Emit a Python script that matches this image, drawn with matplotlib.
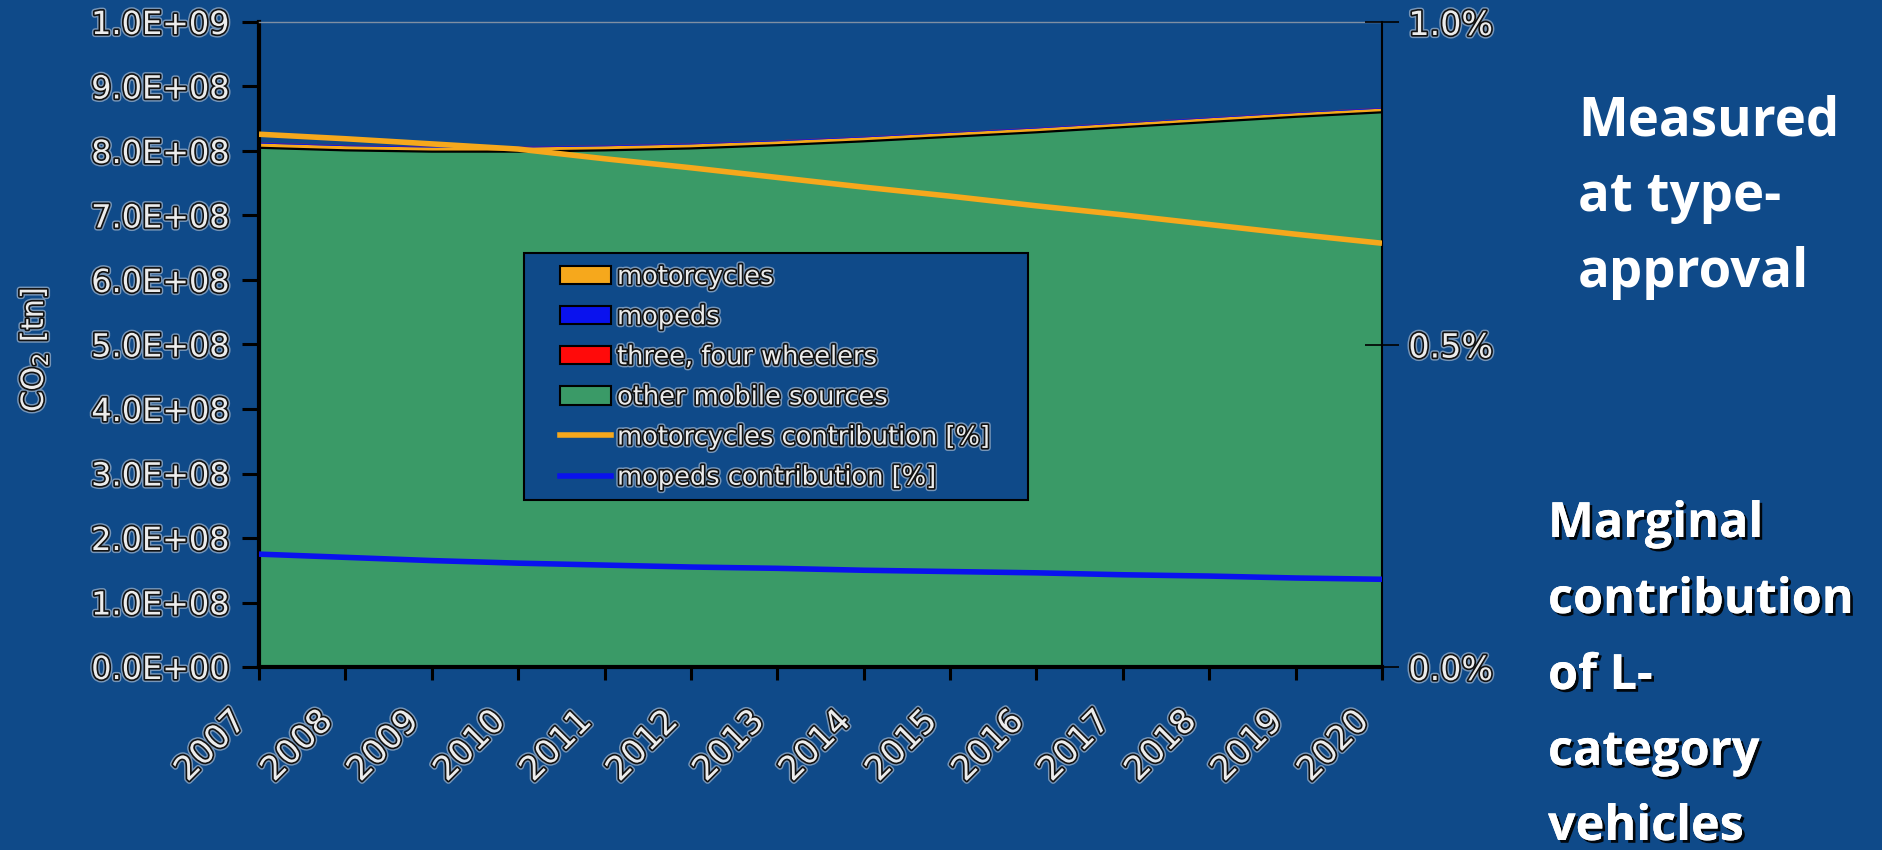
import matplotlib
matplotlib.use('Agg')
import matplotlib.pyplot as plt
import matplotlib.patheffects as pe
from matplotlib.patches import Patch, Rectangle
from matplotlib.lines import Line2D
from matplotlib.ticker import FuncFormatter, FixedLocator
from matplotlib.transforms import ScaledTranslation

# ---------------- data ----------------
years = [2007, 2008, 2009, 2010, 2011, 2012, 2013, 2014, 2015, 2016, 2017, 2018, 2019, 2020]
year_labels = [str(y) for y in years]

other_mobile = [8.05e8, 8.01e8, 7.99e8, 7.99e8, 8.01e8, 8.04e8, 8.09e8,
                8.15e8, 8.22e8, 8.29e8, 8.37e8, 8.45e8, 8.53e8, 8.60e8]
motorcycles = [6.6e6, 6.5e6, 6.4e6, 6.3e6, 6.3e6, 6.2e6, 6.1e6,
               6.0e6, 6.0e6, 5.9e6, 5.8e6, 5.8e6, 5.7e6, 5.7e6]
mopeds = [1.4e6, 1.37e6, 1.33e6, 1.29e6, 1.27e6, 1.25e6, 1.24e6,
          1.23e6, 1.22e6, 1.21e6, 1.20e6, 1.19e6, 1.18e6, 1.17e6]
three_four_wheelers = [0.3e6, 0.3e6, 0.3e6, 0.3e6, 0.3e6, 0.3e6, 0.3e6,
                       0.3e6, 0.3e6, 0.3e6, 0.3e6, 0.3e6, 0.3e6, 0.3e6]

motorcycles_pct = [0.826, 0.819, 0.811, 0.803, 0.788, 0.774, 0.759,
                   0.744, 0.730, 0.715, 0.701, 0.686, 0.671, 0.657]
mopeds_pct = [0.175, 0.170, 0.165, 0.161, 0.158, 0.155, 0.153,
              0.150, 0.148, 0.146, 0.143, 0.141, 0.138, 0.136]

co2_ticks = [0, 1e8, 2e8, 3e8, 4e8, 5e8, 6e8, 7e8, 8e8, 9e8, 1e9]
pct_ticks = [0.0, 0.5, 1.0]

legend_labels = ['motorcycles', 'mopeds', 'three, four wheelers', 'other mobile sources',
                 'motorcycles contribution [%]', 'mopeds contribution [%]']

# ---------------- style ----------------
BG = '#0f4a89'
GREEN = '#3a9a67'
ORANGE = '#f6a81c'
BLUE = '#0a12ee'
RED = '#ff0a0a'
TXT = '#ececec'
outline = [pe.Stroke(linewidth=4.5, foreground='#cfd6e0', alpha=0.55),
           pe.Stroke(linewidth=2.4, foreground='#111111'),
           pe.Normal()]

W, H = 1883, 850
fig = plt.figure(figsize=(W / 100, H / 100), dpi=100, facecolor=BG)

x0, x1, y0, y1 = 259, 1382, 667, 22
ax = fig.add_axes([x0 / W, 1 - y0 / H, (x1 - x0) / W, (y0 - y1) / H])
ax.set_facecolor(BG)

ax.stackplot(years, other_mobile, motorcycles, mopeds, three_four_wheelers,
             colors=[GREEN, ORANGE, BLUE, RED], edgecolor='none', zorder=1)
ax.plot(years, other_mobile, color='black', lw=1.6, zorder=2)

ax.set_xlim(years[0], years[-1])
ax.set_ylim(0, 1e9)
ax.yaxis.set_major_locator(FixedLocator(co2_ticks))
ax.yaxis.set_major_formatter(FuncFormatter(lambda v, p: f"{v:.1E}"))
ax.set_xticks(years)
ax.set_xticklabels(year_labels, rotation=45, ha='right', va='center', rotation_mode='anchor')

ax.tick_params(axis='y', direction='out', length=12, width=2.2, color='black',
               pad=9, labelsize=23, labelcolor=TXT)
ax.tick_params(axis='x', direction='out', length=9, width=2.2, color='black',
               pad=26, labelsize=24, labelcolor=TXT)

for s in ['left', 'bottom']:
    ax.spines[s].set_color('black')
    ax.spines[s].set_linewidth(3)
ax.spines['top'].set_color('#7f8fa3')
ax.spines['top'].set_linewidth(1)
ax.spines['right'].set_visible(False)

# ---------------- secondary axis ----------------
ax2 = ax.twinx()
ax2.plot(years, motorcycles_pct, color=ORANGE, lw=4, solid_capstyle='butt', zorder=3)
ax2.plot(years, mopeds_pct, color=BLUE, lw=4, solid_capstyle='butt', zorder=3)
ax2.set_ylim(0, 1.0)
ax2.yaxis.set_major_locator(FixedLocator(pct_ticks))
ax2.yaxis.set_major_formatter(FuncFormatter(lambda v, p: f"{v:.1f}%"))
ax2.tick_params(axis='y', direction='inout', length=24, width=1.2, color='black',
                pad=7, labelsize=24, labelcolor=TXT)
for s in ['left', 'top', 'bottom']:
    ax2.spines[s].set_visible(False)
ax2.spines['right'].set_color('black')
ax2.spines['right'].set_linewidth(1.5)

# ---------------- legend ----------------
def fx(px):
    return (px - x0) / (x1 - x0)

def fy(py):
    return (y0 - py) / (y0 - y1)

frame = Rectangle((fx(524), fy(500)), fx(1028) - fx(524), fy(253) - fy(500),
                  transform=ax2.transAxes, facecolor=BG, edgecolor='black',
                  lw=1.5, zorder=4, clip_on=False)
ax2.add_patch(frame)

handles = [
    Patch(facecolor=ORANGE, edgecolor='black', lw=1.5),
    Patch(facecolor=BLUE, edgecolor='black', lw=1.5),
    Patch(facecolor=RED, edgecolor='black', lw=1.5),
    Patch(facecolor=GREEN, edgecolor='black', lw=1.5),
    Line2D([], [], color=ORANGE, lw=4),
    Line2D([], [], color=BLUE, lw=4),
]
leg = ax2.legend(handles, legend_labels, loc='upper left',
                 bbox_to_anchor=(fx(560), fy(264)), frameon=False,
                 fontsize=18.5, handlelength=2.0, handleheight=0.72,
                 handletextpad=0.22, labelspacing=0.55, borderpad=0,
                 borderaxespad=0, labelcolor=TXT)
leg.set_zorder(5)
for t in leg.get_texts():
    t.set_path_effects(outline)

# ---------------- y label ----------------
fig.text(34 / W, 1 - 350 / H, 'CO$_2$ [tn]', rotation=90, ha='center', va='center',
         fontsize=22, color=TXT, path_effects=outline)

# ---------------- side texts ----------------
upper_lines = ['Measured', 'at type-', 'approval']
upper_base = [135, 211, 287]
for txt, yb in zip(upper_lines, upper_base):
    fig.text(1578 / W, 1 - yb / H, txt, ha='left', va='baseline', fontsize=38,
             fontfamily='Open Sans', fontweight='bold', color='white')

lower_lines = ['Marginal', 'contribution', 'of L-', 'category', 'vehicles']
lower_base = [537, 613, 689, 765, 840]
shadow = [pe.withSimplePatchShadow(offset=(2, -2), shadow_rgbFace='black', alpha=0.9), pe.Normal()]
for txt, yb in zip(lower_lines, lower_base):
    fig.text(1548 / W, 1 - yb / H, txt, ha='left', va='baseline', fontsize=35,
             fontfamily='Open Sans', fontweight='bold', color='white',
             path_effects=shadow)

# apply outlined style to tick labels once the ticks exist
fig.canvas.draw()
shift = ScaledTranslation(-18 / 100, 0, fig.dpi_scale_trans)
for lab in ax.get_xticklabels():
    lab.set_transform(lab.get_transform() + shift)
for lab in ax.get_yticklabels() + ax.get_xticklabels() + ax2.get_yticklabels():
    lab.set_path_effects(outline)

fig.savefig('out.png', dpi=100, facecolor=BG)
